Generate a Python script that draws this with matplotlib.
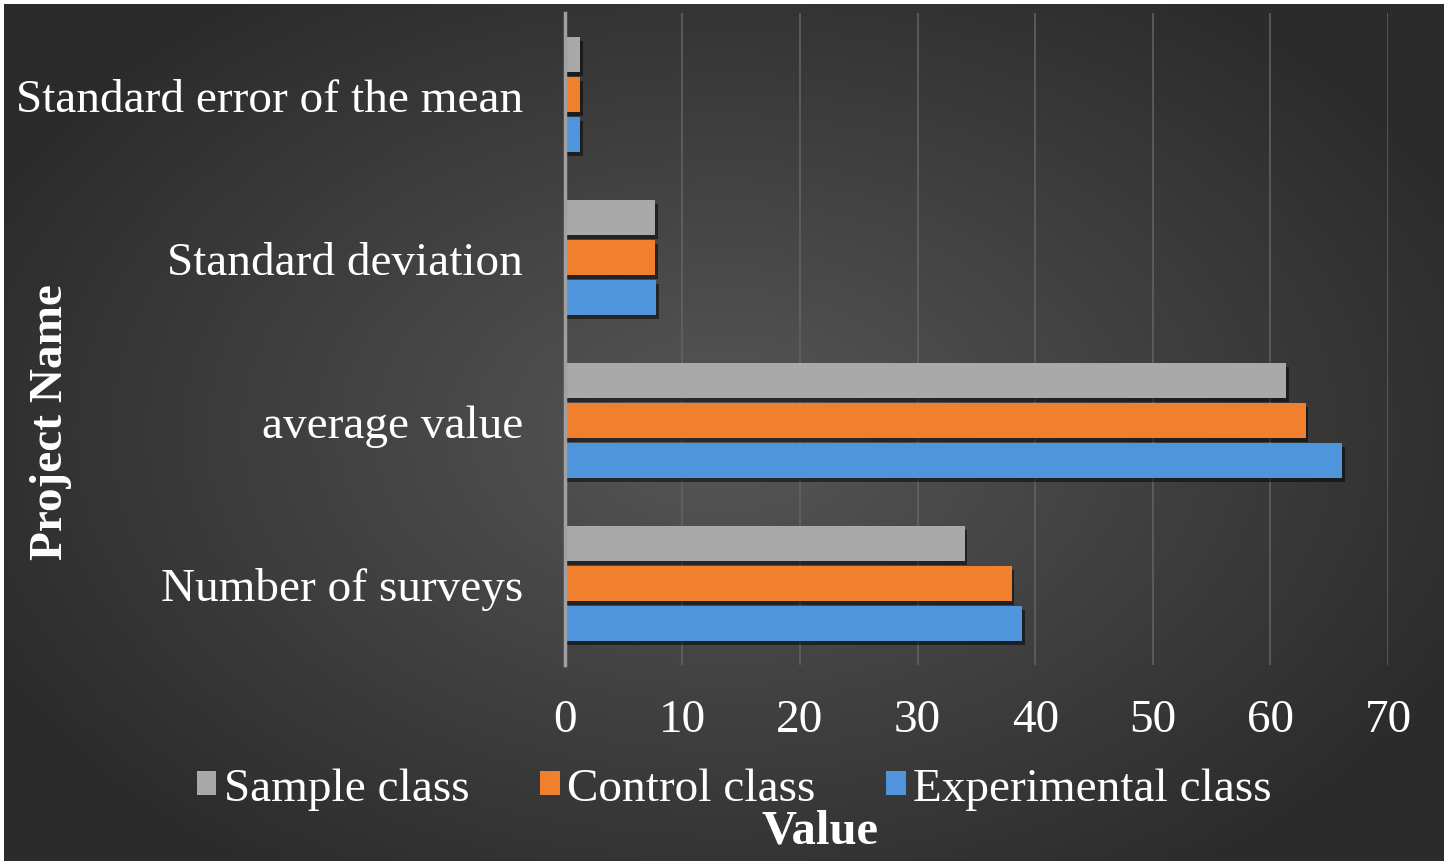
import numpy as np
import matplotlib.pyplot as plt
import matplotlib.patheffects as pe

# Data
categories = ["Number of surveys", "average value", "Standard deviation",
              "Standard error of the mean"]
sample_class = [34.0, 61.3, 7.7, 1.3]
control_class = [38.0, 63.0, 7.7, 1.3]
experimental_class = [38.9, 66.1, 7.8, 1.3]
x_ticks = [0, 10, 20, 30, 40, 50, 60, 70]

plt.rcParams['font.family'] = ['Liberation Serif', 'DejaVu Serif']

fig = plt.figure(figsize=(14.48, 8.62), dpi=100)
fig.patch.set_facecolor('white')

# radial dark gradient background, inset slightly to leave the light frame
bg = fig.add_axes([0.003, 0.0, 0.994, 0.994], zorder=-10)
yy, xx = np.mgrid[-1:1:300j, -1:1:500j]
r = np.sqrt((xx * 1.0) ** 2 + (yy * 0.9) ** 2)
shade = np.clip(0.34 - 0.15 * r, 0.17, 0.34)
bg.imshow(np.dstack([shade, shade, shade]), aspect='auto',
          extent=[0, 1, 0, 1], interpolation='bicubic')
bg.set_axis_off()

ax = fig.add_axes([0.390, 0.227, 0.5686, 0.757])
ax.set_facecolor('none')

y = np.arange(len(categories))
h = 0.215
step = 0.245
shadow = [pe.SimplePatchShadow(offset=(2, -3), shadow_rgbFace='black', alpha=0.5),
          pe.Normal()]

ax.barh(y + step, sample_class, height=h, color='#a9a9a9', label='Sample class',
        path_effects=shadow, zorder=3)
ax.barh(y, control_class, height=h, color='#f07f2e', label='Control class',
        path_effects=shadow, zorder=3)
ax.barh(y - step, experimental_class, height=h, color='#4f95dc',
        label='Experimental class', path_effects=shadow, zorder=3)

ax.set_xlim(0, 70)
ax.set_ylim(-0.5, 3.5)
ax.set_xticks(x_ticks)
ax.set_yticks(y)
ax.set_yticklabels(categories)
ax.tick_params(axis='both', length=0, colors='white', labelsize=34)
ax.tick_params(axis='y', pad=30)
ax.tick_params(axis='x', pad=24)

ax.grid(axis='x', color='#646464', linewidth=1.1, zorder=0)
for s in ['top', 'right', 'bottom']:
    ax.spines[s].set_visible(False)
ax.spines['left'].set_color('#a0a0a0')
ax.spines['left'].set_linewidth(2.5)
ax.spines['left'].set_zorder(4)

handles, labels = ax.get_legend_handles_labels()
leg = fig.legend(handles, labels, loc='center', bbox_to_anchor=(0.507, 0.084),
                 ncol=3, frameon=False, fontsize=34, handlelength=0.42,
                 handleheight=0.42, handletextpad=0.15, columnspacing=1.5,
                 labelcolor='white')
for hnd in leg.legend_handles:
    hnd.set_path_effects([])

fig.text(0.566, 0.035, 'Value', color='white', fontsize=35, fontweight='bold',
         ha='center', va='center')
fig.text(0.035, 0.51, 'Project Name', color='white', fontsize=34,
         fontweight='bold', rotation=90, ha='center', va='center')

fig.savefig('out.png', dpi=100, facecolor=fig.get_facecolor())
